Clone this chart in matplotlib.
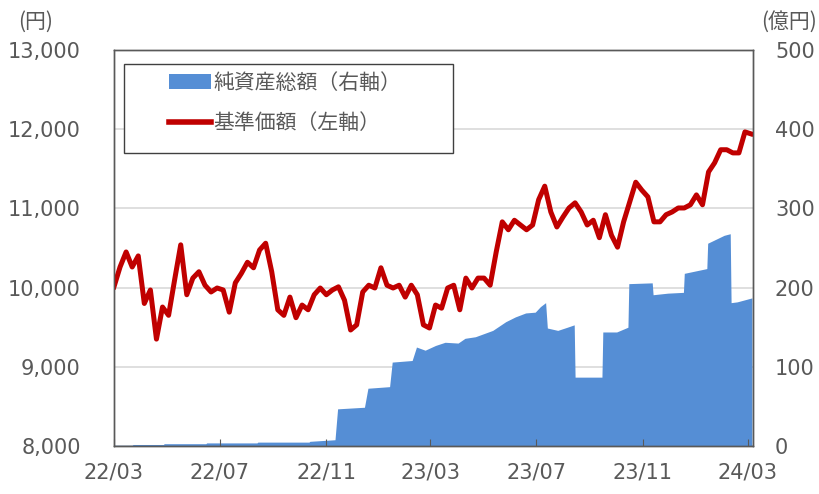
"""
基準価額と純資産総額の推移チャート
"""

import matplotlib
matplotlib.use("Agg")
import matplotlib.pyplot as plt
import matplotlib.dates as mdates
from matplotlib.patches import Patch, Rectangle
from matplotlib.lines import Line2D
import pandas as pd

# 基準価額（円）: 2022-03-01 から週次
price = [
    10010, 10260, 10450, 10260, 10400, 9800, 9970, 9350, 9755, 9650,
    10100, 10540, 9910, 10120, 10200, 10030, 9945, 9995, 9970, 9690,
    10060, 10180, 10320, 10250, 10475, 10560, 10200, 9720, 9650, 9880,
    9620, 9780, 9720, 9910, 9995, 9910, 9970, 10010, 9840, 9465,
    9530, 9945, 10030, 9995, 10250, 10030, 9995, 10030, 9880, 10030,
    9910, 9530, 9490, 9780, 9740, 9995, 10030, 9720, 10120, 9995,
    10120, 10120, 10030, 10450, 10830, 10730, 10850, 10790, 10730, 10790,
    11110, 11280, 10955, 10765, 10890, 11005, 11070, 10955, 10790, 10850,
    10630, 10920, 10660, 10510, 10830, 11080, 11330, 11230, 11145, 10830,
    10830, 10920, 10955, 11005, 11005, 11045, 11170, 11045, 11460, 11575,
    11740, 11740, 11700, 11700, 11965, 11940,
]
price_dates = pd.date_range("2022-03-01", periods=len(price), freq="7D")

# 純資産総額（億円）
nav_dates = pd.to_datetime([
    "2022-03-01", "2022-03-22", "2022-03-23", "2022-04-27", "2022-04-28",
    "2022-06-15", "2022-06-16", "2022-08-13", "2022-08-14", "2022-10-12",
    "2022-10-13", "2022-11-11", "2022-11-14", "2022-12-15", "2022-12-19",
    "2023-01-13", "2023-01-16", "2023-02-08", "2023-02-13", "2023-02-23",
    "2023-03-07", "2023-03-18", "2023-04-02", "2023-04-10", "2023-04-22",
    "2023-05-12", "2023-05-27", "2023-06-07", "2023-06-19", "2023-06-30",
    "2023-07-06", "2023-07-12", "2023-07-14", "2023-07-26", "2023-08-06",
    "2023-08-14", "2023-08-15", "2023-09-15", "2023-09-16", "2023-10-02",
    "2023-10-15", "2023-10-16", "2023-11-12", "2023-11-13", "2023-11-30",
    "2023-12-18", "2023-12-19", "2024-01-14", "2024-01-15", "2024-02-03",
    "2024-02-10", "2024-02-11", "2024-02-18", "2024-03-06",
])
nav = [
    1, 1, 2, 2, 3,
    3, 4, 4, 5, 5,
    6, 8, 47, 49, 73,
    75, 106, 108, 125, 121,
    127, 131, 130, 136, 138,
    146, 157, 163, 168, 169,
    176, 181, 149, 146, 150,
    153, 87, 87, 144, 144,
    150, 205, 206, 191, 193,
    194, 218, 224, 256, 266,
    268, 181, 182, 187,
]

tick_dates = pd.to_datetime(["2022-03-01", "2022-07-01", "2022-11-01", "2023-03-01",
                             "2023-07-01", "2023-11-01", "2024-03-01"])

blue = "#558ED5"
red = "#C00000"
gray = "#595959"
cjk = ["Noto Sans CJK JP", "DejaVu Sans"]

fig = plt.figure(figsize=(8.2, 4.94), dpi=100)
ax1 = fig.add_axes([0.139, 0.097, 0.779, 0.802])
ax2 = ax1.twinx()
ax1.set_zorder(ax2.get_zorder() + 1)
ax1.patch.set_visible(False)

# 純資産総額（右軸）
ax2.fill_between(nav_dates, nav, 0, color=blue, linewidth=0, zorder=2)
ax2.set_ylim(0, 500)
ax2.set_yticks([0, 100, 200, 300, 400, 500])
ax2.grid(axis="y", color="#D9D9D9", linewidth=1.2, zorder=0)
ax2.set_axisbelow(True)

# 基準価額（左軸）
ax1.plot(price_dates, price, color=red, linewidth=3.6, solid_joinstyle="round")
ax1.set_ylim(8000, 13000)
ax1.set_yticks(range(8000, 13001, 1000))
ax1.yaxis.set_major_formatter(plt.FuncFormatter(lambda v, p: f"{int(v):,}"))

ax1.set_xlim(pd.Timestamp("2022-03-01"), pd.Timestamp("2024-03-07"))
ax1.set_xticks(tick_dates)
ax1.xaxis.set_major_formatter(mdates.DateFormatter("%y/%m"))

ax1.tick_params(axis="x", direction="in", length=5, color=gray, labelsize=15,
                labelcolor=gray, pad=12)
ax1.tick_params(axis="y", length=0, labelsize=15, labelcolor=gray, pad=24)
ax2.tick_params(axis="y", length=0, labelsize=15, labelcolor=gray, pad=16)
ax2.tick_params(axis="x", length=0)

for ax in (ax1, ax2):
    for s in ax.spines.values():
        s.set_color(gray)
        s.set_linewidth(1.0)

# 単位
fig.text(0.022, 0.955, "(円)", fontsize=15, color=gray, family=cjk, va="center")
fig.text(0.928, 0.955, "(億円)", fontsize=15, color=gray, family=cjk, va="center")

# 凡例
ax1.add_patch(Rectangle((0.0157, 0.74), 0.5149, 0.2247, transform=ax1.transAxes,
                        facecolor="white", edgecolor="#404040", linewidth=1.0,
                        zorder=5))
handles = [Patch(facecolor=blue, edgecolor="none"),
           Line2D([], [], color=red, linewidth=4)]
labels = ["純資産総額（右軸）", "基準価額（左軸）"]
leg = ax1.legend(handles, labels, loc="upper left", bbox_to_anchor=(0.086, 0.945),
                 frameon=False, borderpad=0, borderaxespad=0, handlelength=2.0,
                 handletextpad=0.15, labelspacing=0.9, prop={"family": cjk, "size": 15})
leg.set_zorder(6)
for t in leg.get_texts():
    t.set_color(gray)

fig.savefig("out.png", dpi=100)
